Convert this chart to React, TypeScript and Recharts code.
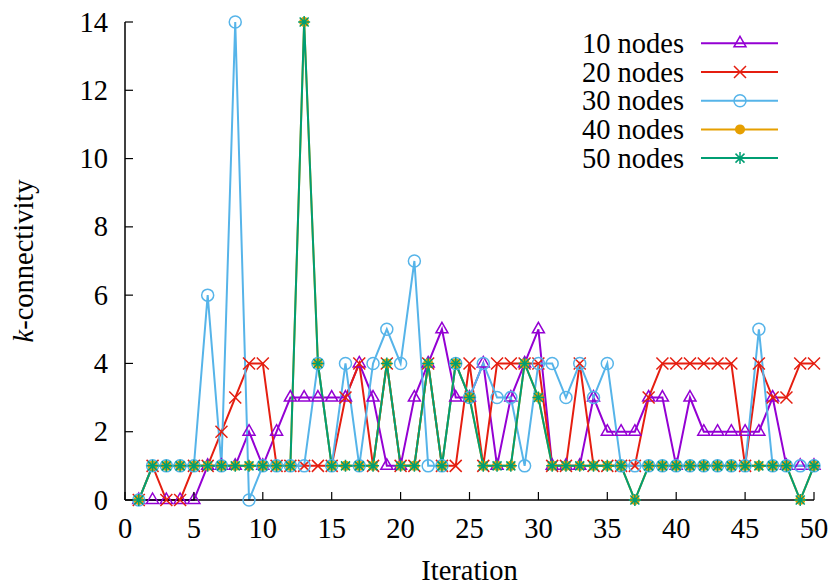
import React from 'react';
import { LineChart, Line, XAxis, YAxis, Legend, Label } from 'recharts';

const iterations = [1, 2, 3, 4, 5, 6, 7, 8, 9, 10, 11, 12, 13, 14, 15, 16, 17, 18, 19, 20, 21, 22, 23, 24, 25, 26, 27, 28, 29, 30, 31, 32, 33, 34, 35, 36, 37, 38, 39, 40, 41, 42, 43, 44, 45, 46, 47, 48, 49, 50];
const nodes10 = [0, 0, 0, 0, 0, 1, 1, 1, 2, 1, 2, 3, 3, 3, 3, 3, 4, 3, 1, 1, 3, 4, 5, 3, 3, 4, 1, 3, 4, 5, 1, 1, 1, 3, 2, 2, 2, 3, 3, 1, 3, 2, 2, 2, 2, 2, 3, 1, 1, 1];
const nodes20 = [0, 1, 0, 0, 1, 1, 2, 3, 4, 4, 1, 1, 1, 1, 1, 3, 4, 1, 4, 1, 1, 4, 1, 1, 4, 1, 4, 4, 4, 4, 1, 1, 4, 1, 1, 1, 1, 3, 4, 4, 4, 4, 4, 4, 1, 4, 3, 3, 4, 4];
const nodes30 = [0, 1, 1, 1, 1, 6, 1, 14, 0, 1, 1, 1, 1, 4, 1, 4, 1, 4, 5, 4, 7, 1, 1, 4, 3, 4, 3, 3, 1, 4, 4, 3, 4, 3, 4, 1, 1, 1, 1, 1, 1, 1, 1, 1, 1, 5, 1, 1, 1, 1];
const nodes40 = [0, 1, 1, 1, 1, 1, 1, 1, 1, 1, 1, 1, 14, 4, 1, 1, 1, 1, 4, 1, 1, 4, 1, 4, 3, 1, 1, 1, 4, 3, 1, 1, 1, 1, 1, 1, 0, 1, 1, 1, 1, 1, 1, 1, 1, 1, 1, 1, 0, 1];
const nodes50 = [0, 1, 1, 1, 1, 1, 1, 1, 1, 1, 1, 1, 14, 4, 1, 1, 1, 1, 4, 1, 1, 4, 1, 4, 3, 1, 1, 1, 4, 3, 1, 1, 1, 1, 1, 1, 0, 1, 1, 1, 1, 1, 1, 1, 1, 1, 1, 1, 0, 1];

const xTicks = [0, 5, 10, 15, 20, 25, 30, 35, 40, 45, 50];
const yTicks = [0, 2, 4, 6, 8, 10, 12, 14];

const seriesNames = ['10 nodes', '20 nodes', '30 nodes', '40 nodes', '50 nodes'];
const seriesKeys = ['n10', 'n20', 'n30', 'n40', 'n50'];
const seriesColors = ['#9400D3', '#E51E10', '#56B4E9', '#E69F00', '#009E73'];
const seriesShapes = ['triangle', 'cross', 'circle', 'disc', 'star'];

const data = iterations.map((it, i) => ({
  it,
  n10: nodes10[i],
  n20: nodes20[i],
  n30: nodes30[i],
  n40: nodes40[i],
  n50: nodes50[i],
}));

const FONT = '"Liberation Serif", "Times New Roman", serif';
const FS = 28.5;
const TICK_LEN = 8;

function Marker({ shape, cx, cy, color }: { shape: string; cx: number; cy: number; color: string }) {
  if (cx == null || cy == null || isNaN(cx) || isNaN(cy)) return null;
  const sw = 1.5;
  switch (shape) {
    case 'triangle':
      return <path d={`M${cx},${cy - 7} L${cx + 6},${cy + 3.5} L${cx - 6},${cy + 3.5} Z`} fill="none" stroke={color} strokeWidth={sw} />;
    case 'cross':
      return <path d={`M${cx - 6},${cy - 6} L${cx + 6},${cy + 6} M${cx - 6},${cy + 6} L${cx + 6},${cy - 6}`} fill="none" stroke={color} strokeWidth={sw} />;
    case 'circle':
      return <circle cx={cx} cy={cy} r={6} fill="none" stroke={color} strokeWidth={sw} />;
    case 'disc':
      return <circle cx={cx} cy={cy} r={5} fill={color} stroke="none" />;
    case 'star':
      return <path d={`M${cx - 6},${cy} L${cx + 6},${cy} M${cx},${cy - 6} L${cx},${cy + 6} M${cx - 4.5},${cy - 4.5} L${cx + 4.5},${cy + 4.5} M${cx - 4.5},${cy + 4.5} L${cx + 4.5},${cy - 4.5}`} fill="none" stroke={color} strokeWidth={sw} />;
    default:
      return null;
  }
}

const BottomTick = (p: any) => (
  <g>
    <line x1={p.x} x2={p.x} y1={p.y} y2={p.y - TICK_LEN} stroke="#000" strokeWidth={1.2} />
    <text x={p.x} y={p.y + 38} textAnchor="middle" fontFamily={FONT} fontSize={FS} fill="#000">{p.payload.value}</text>
  </g>
);
const TopTick = (p: any) => (
  <line x1={p.x} x2={p.x} y1={p.y} y2={p.y + TICK_LEN} stroke="#000" strokeWidth={1.2} />
);
const LeftTick = (p: any) => (
  <g>
    <line x1={p.x} x2={p.x + TICK_LEN} y1={p.y} y2={p.y} stroke="#000" strokeWidth={1.2} />
    <text x={p.x - 17} y={p.y + 9.5} textAnchor="end" fontFamily={FONT} fontSize={FS} fill="#000">{p.payload.value}</text>
  </g>
);
const RightTick = (p: any) => (
  <line x1={p.x} x2={p.x - TICK_LEN} y1={p.y} y2={p.y} stroke="#000" strokeWidth={1.2} />
);

const LegendContent = () => (
  <svg width={240} height={160} style={{ display: 'block' }}>
    {seriesNames.map((name, i) => {
      const y = 23.3 + 28.7 * i;
      return (
        <g key={name}>
          <text x={124} y={y + 9.5} textAnchor="end" fontFamily={FONT} fontSize={FS} fill="#000">{name}</text>
          <line x1={141} x2={218} y1={y} y2={y} stroke={seriesColors[i]} strokeWidth={2} />
          <Marker shape={seriesShapes[i]} cx={180} cy={y} color={seriesColors[i]} />
        </g>
      );
    })}
  </svg>
);

const axisLine = { stroke: '#000', strokeWidth: 1.5 };

export default function App() {
  return (
    <div style={{ position: 'absolute', left: 0, top: 0, width: 834, height: 587, background: '#fff', fontFamily: FONT }}>
      <LineChart width={834} height={587} data={data} margin={{ top: 22, right: 20, left: 0, bottom: 0 }}>
        <XAxis
          dataKey="it"
          type="number"
          domain={[0, 50]}
          ticks={xTicks}
          interval={0}
          height={87}
          axisLine={axisLine}
          tickLine={false}
          tickSize={0}
          tickMargin={0}
          tick={BottomTick}
        >
          <Label
            content={(props: any) => {
              const vb = props.viewBox || {};
              return (
                <text x={vb.x + vb.width / 2} y={vb.y + 80} textAnchor="middle" fontFamily={FONT} fontSize={FS} fill="#000">
                  Iteration
                </text>
              );
            }}
          />
        </XAxis>
        <XAxis
          xAxisId="top"
          orientation="top"
          dataKey="it"
          type="number"
          domain={[0, 50]}
          ticks={xTicks}
          interval={0}
          height={0}
          axisLine={axisLine}
          tickLine={false}
          tickSize={0}
          tickMargin={0}
          tick={TopTick}
        />
        <YAxis
          type="number"
          domain={[0, 14]}
          ticks={yTicks}
          interval={0}
          width={125}
          axisLine={axisLine}
          tickLine={false}
          tickSize={0}
          tickMargin={0}
          tick={LeftTick}
        >
          <Label
            content={(props: any) => {
              const vb = props.viewBox || {};
              const cx = vb.x + 33;
              const cy = vb.y + vb.height / 2;
              return (
                <text x={cx} y={cy} transform={`rotate(-90 ${cx} ${cy})`} textAnchor="middle" fontFamily={FONT} fontSize={FS} fill="#000">
                  <tspan fontStyle="italic">k</tspan>-connectivity
                </text>
              );
            }}
          />
        </YAxis>
        <YAxis
          yAxisId="right"
          orientation="right"
          type="number"
          domain={[0, 14]}
          ticks={yTicks}
          interval={0}
          width={0}
          axisLine={axisLine}
          tickLine={false}
          tickSize={0}
          tickMargin={0}
          tick={RightTick}
        />
        <Legend
          layout="vertical"
          align="center"
          verticalAlign="middle"
          wrapperStyle={{ position: 'absolute', left: 560, top: 20, width: 240, height: 160 }}
          content={LegendContent}
        />
        {seriesKeys.map((key, i) => (
          <Line
            key={key}
            dataKey={key}
            name={seriesNames[i]}
            type="linear"
            stroke={seriesColors[i]}
            strokeWidth={2}
            isAnimationActive={false}
            activeDot={false}
            dot={(p: any) => (
              <Marker key={`${key}-${p.index}`} shape={seriesShapes[i]} cx={p.cx} cy={p.cy} color={seriesColors[i]} />
            )}
          />
        ))}
      </LineChart>
    </div>
  );
}
